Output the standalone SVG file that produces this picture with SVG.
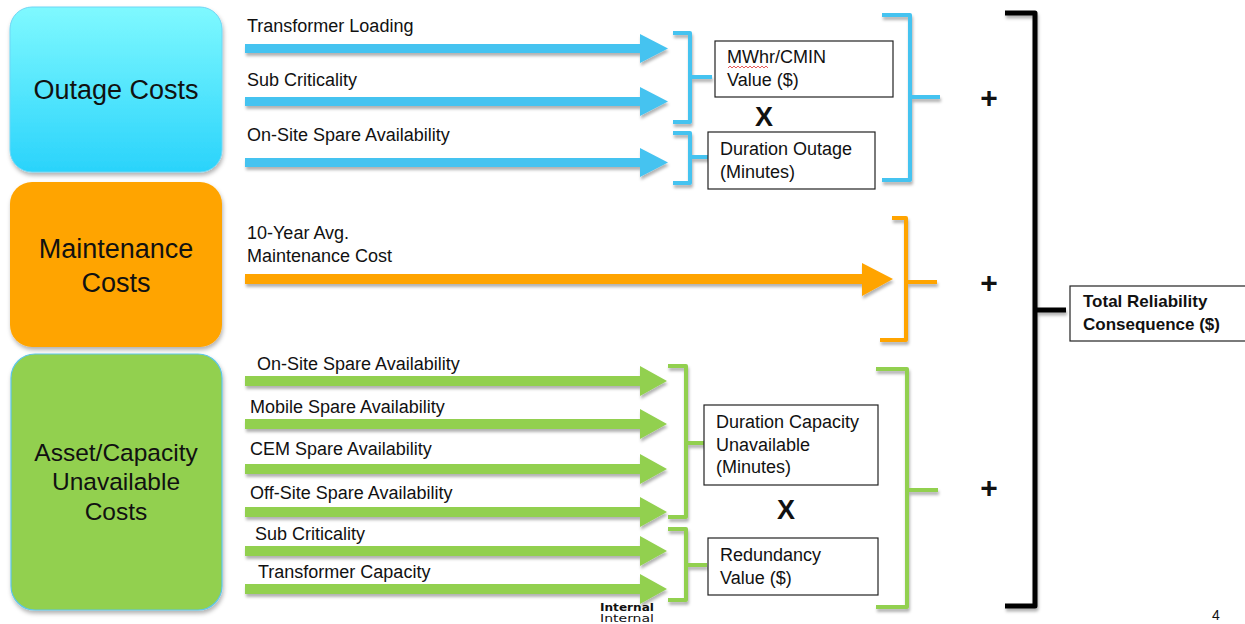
<svg xmlns="http://www.w3.org/2000/svg" width="1245" height="624" viewBox="0 0 1245 624">
<defs>
<linearGradient id="gBlue" x1="0" y1="0" x2="0" y2="1">
<stop offset="0" stop-color="#7ff9ff"/>
<stop offset="1" stop-color="#2ad3fb"/>
</linearGradient>
<filter id="sh" x="-10%" y="-10%" width="130%" height="140%">
<feDropShadow dx="1" dy="3" stdDeviation="2" flood-color="#000" flood-opacity="0.3"/>
</filter>
<filter id="ash" x="-5%" y="-50%" width="110%" height="200%">
<feDropShadow dx="1" dy="3" stdDeviation="1.5" flood-color="#000" flood-opacity="0.3"/>
</filter>
</defs>
<style>
text{font-family:"Liberation Sans",Arial,sans-serif;fill:#111}
.lbl{font-size:18px}
.box{font-size:18px}
.big{font-size:27px;text-anchor:middle}
.bigg{font-size:24.5px;text-anchor:middle}
.x{font-size:27px;font-weight:bold;text-anchor:middle}
.plus{font-size:30px;font-weight:bold;text-anchor:middle}
.blue{fill:#45c3f0}
.org{fill:#ffa400}
.grn{fill:#92d050}
.bb{fill:none;stroke:#45c3f0;stroke-width:4;stroke-linejoin:round}
.ob{fill:none;stroke:#ffa400;stroke-width:4;stroke-linejoin:round}
.gb{fill:none;stroke:#92d050;stroke-width:4;stroke-linejoin:round}
.kb{fill:none;stroke:#000;stroke-width:5;stroke-linejoin:round}
.rb{fill:#fff;stroke:#222;stroke-width:1.2}
.int{font-size:11px;font-family:"Liberation Sans Narrow","DejaVu Sans Condensed",sans-serif}
</style>
<rect width="1245" height="624" fill="#fff"/>

<g id="outage">
<rect x="10" y="7" width="212" height="165" rx="22" fill="url(#gBlue)" stroke="#6fd6f5" stroke-width="1" filter="url(#sh)"/>
<text class="big" x="116" y="99">Outage Costs</text>
</g>
<g id="maintenance">
<rect x="10" y="182" width="212" height="165" rx="22" fill="#ffa400" filter="url(#sh)"/>
<text class="big" x="116" y="258">Maintenance</text>
<text class="big" x="116" y="292">Costs</text>
</g>
<g id="asset">
<rect x="11" y="354" width="211" height="256" rx="24" fill="#92d050" stroke="#5ec6e8" stroke-width="1.2" filter="url(#sh)"/>
<text class="bigg" x="116" y="461">Asset/Capacity</text>
<text class="bigg" x="116" y="490">Unavailable</text>
<text class="bigg" x="116" y="520">Costs</text>
</g>

<g id="labels">
<text class="lbl" x="247" y="32">Transformer Loading</text>
<text class="lbl" x="247" y="86">Sub Criticality</text>
<text class="lbl" x="247" y="141">On-Site Spare Availability</text>
<text class="lbl" x="247" y="239">10-Year Avg.</text>
<text class="lbl" x="247" y="262">Maintenance Cost</text>
<text class="lbl" x="257" y="370">On-Site Spare Availability</text>
<text class="lbl" x="250" y="413">Mobile Spare Availability</text>
<text class="lbl" x="250" y="455">CEM Spare Availability</text>
<text class="lbl" x="250" y="499">Off-Site Spare Availability</text>
<text class="lbl" x="255" y="540">Sub Criticality</text>
<text class="lbl" x="258" y="578">Transformer Capacity</text>
</g>

<g id="connectors">
<g filter="url(#ash)">
<path class="blue" d="M245,44 H640 V34 L668,48.5 L640,63 V53 H245 Z"/>
<path class="blue" d="M245,97 H640 V87 L668,101.5 L640,116 V106 H245 Z"/>
<path class="blue" d="M245,158 H640 V148 L668,162.5 L640,177 V167 H245 Z"/>
<path class="org" d="M245,274 H862 V263 L893,279 L862,296 V284 H245 Z"/>
<path class="grn" d="M245,376 H640 V366 L667,381 L640,396 V386 H245 Z"/>
<path class="grn" d="M245,419 H640 V409 L667,424 L640,439 V429 H245 Z"/>
<path class="grn" d="M245,464 H640 V454 L667,469 L640,484 V474 H245 Z"/>
<path class="grn" d="M245,507 H640 V497 L667,512 L640,527 V517 H245 Z"/>
<path class="grn" d="M245,546 H640 V536 L667,551 L640,566 V556 H245 Z"/>
<path class="grn" d="M245,584 H640 V574 L667,589 L640,604 V594 H245 Z"/>
</g>
<g filter="url(#ash)">
<path class="bb" d="M673,33 H690 V122 H673 M690,77 H712"/>
<path class="bb" d="M673,133 H690 V183 H673 M690,157 H712"/>
<path class="bb" d="M882,15 H910 V180 H882 M910,97 H940"/>
<path class="ob" d="M892,218 H906 V340 H880 M906,282 H937"/>
<path class="gb" d="M668,366 H686 V517 H668 M686,443 H707"/>
<path class="gb" d="M668,529 H686 V600 H668 M686,565 H707"/>
<path class="gb" d="M876,369 H907 V607 H876 M907,490 H938"/>
<path class="kb" d="M1005,13 H1035 V606 H1005 M1035,310 H1066"/>
</g>
</g>

<g id="mwhr">
<rect class="rb" x="715" y="41" width="178" height="56"/>
<text class="box" x="727" y="63">MWhr/CMIN</text>
<path d="M728,68 l2,-2 l2,2 l2,-2 l2,2 l2,-2 l2,2 l2,-2 l2,2 l2,-2 l2,2 l2,-2 l2,2 l2,-2 l2,2 l2,-2 l2,2 l2,-2 l2,2 l2,-2 l2,2" fill="none" stroke="#e03030" stroke-width="0.8"/>
<text class="box" x="727" y="86">Value ($)</text>
</g>
<text class="x" x="764" y="126">X</text>
<g id="duration-outage">
<rect class="rb" x="708" y="132" width="167" height="57"/>
<text class="box" x="720" y="155">Duration Outage</text>
<text class="box" x="720" y="178">(Minutes)</text>
</g>
<g id="duration-capacity">
<rect class="rb" x="704" y="405" width="174" height="80"/>
<text class="box" x="716" y="428">Duration Capacity</text>
<text class="box" x="716" y="451">Unavailable</text>
<text class="box" x="716" y="473">(Minutes)</text>
</g>
<text class="x" x="786" y="519">X</text>
<g id="redundancy">
<rect class="rb" x="708" y="538" width="170" height="57"/>
<text class="box" x="720" y="561">Redundancy</text>
<text class="box" x="720" y="584">Value ($)</text>
</g>

<text class="plus" x="989" y="108">+</text>
<text class="plus" x="989" y="293">+</text>
<text class="plus" x="989" y="498">+</text>

<g id="total">
<rect class="rb" x="1070" y="286" width="180" height="55"/>
<text x="1083" y="307" style="font-size:17px;font-weight:bold">Total Reliability</text>
<text x="1083" y="330" style="font-size:17px;font-weight:bold">Consequence ($)</text>
</g>

<text class="int" x="600" y="611" font-weight="bold" textLength="54" lengthAdjust="spacingAndGlyphs">Internal</text>
<text class="int" x="600" y="622" textLength="54" lengthAdjust="spacingAndGlyphs">Internal</text>
<text x="1212" y="620" style="font-size:14px">4</text>
</svg>
